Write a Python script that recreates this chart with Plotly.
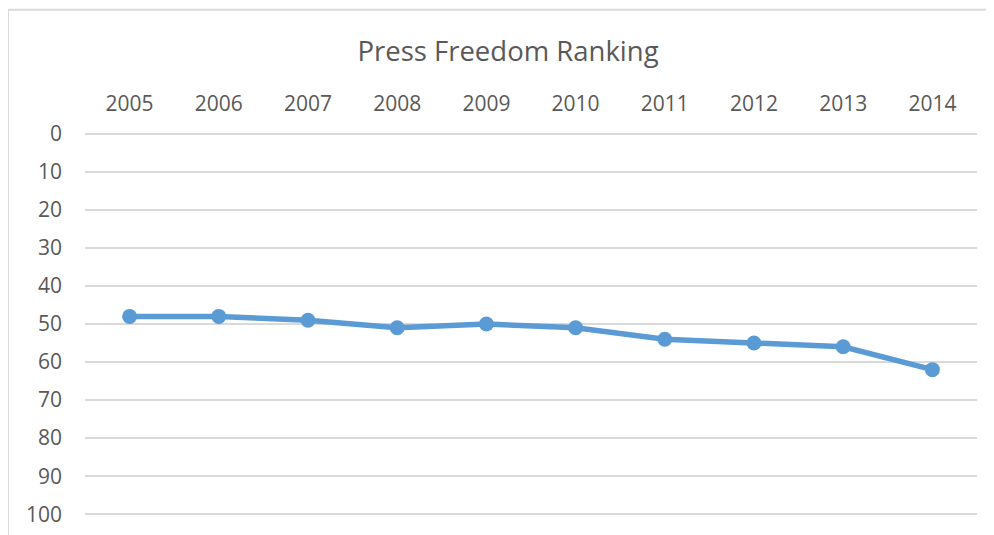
import plotly.graph_objects as go

years = ["2005", "2006", "2007", "2008", "2009", "2010", "2011", "2012", "2013", "2014"]
ranking = [48, 48, 49, 51, 50, 51, 54, 55, 56, 62]

text_color = "#595959"
grid_color = "#d9d9d9"
line_color = "#5b9bd5"

fig = go.Figure()

fig.add_trace(go.Scatter(
    x=years,
    y=ranking,
    mode="lines+markers",
    line=dict(color=line_color, width=5.5),
    marker=dict(color=line_color, size=15),
    hoverinfo="x+y",
    showlegend=False,
))

# page body has an 8px margin, so the figure is a little smaller than the window
W, H = 986, 527
left, right, top, bottom = 77, 17, 122.2, 17.2

fig.update_layout(
    width=W,
    height=H,
    margin=dict(l=left, r=right, t=top, b=bottom, autoexpand=False),
    paper_bgcolor="white",
    plot_bgcolor="white",
    font=dict(family="Open Sans, sans-serif", size=21, color=text_color),
    title=dict(
        text="Press Freedom Ranking",
        font=dict(size=27.5, color=text_color),
        x=500 / W,
        xanchor="center",
        y=1 - 43 / H,
        yanchor="middle",
        xref="container",
        yref="container",
    ),
    xaxis=dict(
        side="top",
        type="category",
        range=[-0.5, 9.5],
        showgrid=False,
        zeroline=False,
        showline=False,
        ticks="",
        ticklabelstandoff=14,
        automargin=False,
    ),
    yaxis=dict(
        # padding so the 0 and 100 gridlines are not clipped at the edges
        range=[101, -1],
        tickmode="linear",
        tick0=0,
        dtick=10,
        showgrid=True,
        gridcolor=grid_color,
        gridwidth=2,
        zeroline=False,
        showline=False,
        ticks="",
        ticklabelstandoff=22,
        automargin=False,
    ),
)

# light chart-area border (top and left visible, rest cropped off)
pw, ph = W - left - right, H - top - bottom
fig.add_shape(
    type="rect",
    xref="paper", yref="paper",
    x0=(0 - left) / pw, x1=(1010 - left) / pw,
    y0=-(560 - (H - bottom)) / ph, y1=1 + (top - 2) / ph,
    line=dict(color=grid_color, width=2),
    fillcolor="rgba(0,0,0,0)",
    layer="below",
)

fig.write_html("out.html")
